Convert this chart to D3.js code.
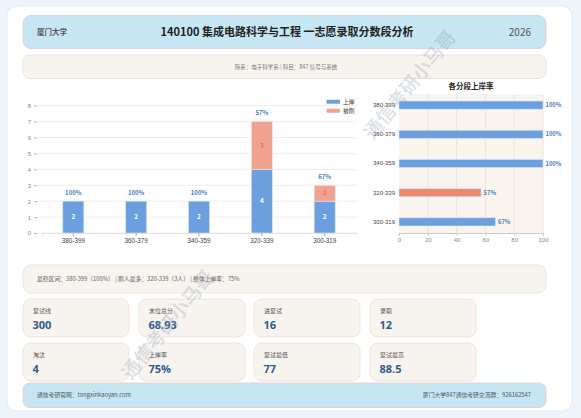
<!DOCTYPE html>
<html><head><meta charset="utf-8">
<script src="https://cdn.jsdelivr.net/npm/d3@7/dist/d3.min.js"></script>
<style>
html,body{margin:0;padding:0;background:#eef5fa;}
svg{display:block;font-family:"Noto Sans CJK SC","Noto Sans",sans-serif;}
</style></head><body>
<svg id="c" width="581" height="418"></svg>
<script>
const school = "厦门大学";
const title = "140100 集成电路科学与工程 一志愿录取分数段分析";
const year = "2026";
const infoText = "院系：电子科学系 | 科目：847 信号与系统";
const summaryText = "最稳区间：380-399（100%） | 刷人最多：320-339（3人） | 整体上岸率：75%";
const categories = ["380-399","360-379","340-359","320-339","300-319"];
const passed = [2,2,2,4,2];
const failed = [0,0,0,3,1];
const rates = [100,100,100,57,67];
const yTicks = [0,1,2,3,4,5,6,7,8];
const xTicks = [0,20,40,60,80,100];
const legendLabels = ["上岸","被刷"];
const cardLabels = ["复试线","末位总分","进复试","录取","淘汰","上岸率","复试最低","复试最高"];
const cardValues = ["300","68.93","16","12","4","75%","77","88.5"];
const footerLeft = "通信考研官网：tongxinkaoyan.com";
const footerRight = "厦门大学847通信考研交流群：926162547";
const watermark = "通信考研小马哥";

const svg = d3.select("#c");
const BLUE = "#6b9fdd", SALMON = "#f2a291", ORANGE = "#e98a72", PCT = "#4a7dbd";

// outer card
svg.append("rect").attr("x",7).attr("y",6).attr("width",565).attr("height",405).attr("rx",10)
  .attr("fill","#fff").attr("stroke","#e2ecf4");

// header
svg.append("rect").attr("x",23).attr("y",15.5).attr("width",523).attr("height",33).attr("rx",8)
  .attr("fill","#c6e6f3").attr("stroke","#e9cfd4");
svg.append("text").attr("x",37).attr("y",35).attr("font-size",7.5).attr("font-weight",700).attr("fill","#555").text(school);
svg.append("text").attr("x",287).attr("y",36).attr("text-anchor","middle").attr("font-size",11).attr("font-weight",700).attr("fill","#222").text(title);
svg.append("text").attr("x",531).attr("y",36).attr("text-anchor","end").attr("font-size",10).attr("fill","#555").text(year);

// info bar
svg.append("rect").attr("x",23).attr("y",55).attr("width",523).attr("height",23.5).attr("rx",7)
  .attr("fill","#f7f3ee").attr("stroke","#ece4da");
svg.append("text").attr("x",286).attr("y",69).attr("text-anchor","middle").attr("font-size",5.5).attr("fill","#777").text(infoText);

// ---------- left stacked bar chart ----------
const x = d3.scaleBand().domain(categories).range([41.9,356.1]);
const y = d3.scaleLinear().domain([0,8]).range([233,105.7]);
const gL = svg.append("g");
gL.append("g").selectAll("line").data(yTicks).join("line")
  .attr("x1",37).attr("x2",358).attr("y1",d=>y(d)).attr("y2",d=>y(d))
  .attr("stroke","#f1ece6").attr("stroke-width",1);
const yAx = gL.append("g").attr("transform","translate(37,0)").call(d3.axisLeft(y).tickValues(yTicks).tickSize(3).tickPadding(3));
yAx.select(".domain").remove();
yAx.selectAll("line").attr("stroke","#bbb");
yAx.selectAll("text").attr("font-size",6).attr("fill","#888").attr("font-family","Liberation Sans, sans-serif");
const xAx = gL.append("g").attr("transform","translate(0,233)").call(d3.axisBottom(x).tickSize(3).tickPadding(2.5));
xAx.select(".domain").attr("stroke","#e6e0da");
xAx.selectAll("line").attr("stroke","#aaa");
xAx.selectAll("text").attr("font-size",6.3).attr("fill","#444").attr("font-family","Liberation Sans, sans-serif");

const bw = x.bandwidth()*0.335;
const bx = c => x(c)+x.bandwidth()/2-bw/2;
gL.selectAll(".bp").data(categories).join("rect")
  .attr("x",d=>bx(d)).attr("width",bw)
  .attr("y",(d,i)=>y(passed[i])).attr("height",(d,i)=>y(0)-y(passed[i]))
  .attr("fill",BLUE).attr("stroke","#d6e6f8").attr("stroke-width",0.6);
gL.selectAll(".bf").data(categories.filter((d,i)=>failed[i]>0)).join("rect")
  .attr("x",d=>bx(d)).attr("width",bw)
  .attr("y",d=>{const i=categories.indexOf(d);return y(passed[i]+failed[i]);})
  .attr("height",d=>{const i=categories.indexOf(d);return y(passed[i])-y(passed[i]+failed[i]);})
  .attr("fill",SALMON).attr("stroke","#fbe3dc").attr("stroke-width",0.6);
gL.selectAll(".lp").data(categories).join("text")
  .attr("x",d=>x(d)+x.bandwidth()/2).attr("y",(d,i)=>(y(passed[i])+y(0))/2+2.2)
  .attr("text-anchor","middle").attr("font-size",6.5).attr("font-weight",700).attr("fill","#fff")
  .text((d,i)=>passed[i]);
gL.selectAll(".lf").data(categories.filter((d,i)=>failed[i]>0)).join("text")
  .attr("x",d=>x(d)+x.bandwidth()/2)
  .attr("y",d=>{const i=categories.indexOf(d);return (y(passed[i])+y(passed[i]+failed[i]))/2+2.2;})
  .attr("text-anchor","middle").attr("font-size",6.5).attr("fill","#d9534f")
  .text(d=>failed[categories.indexOf(d)]);
gL.selectAll(".pc").data(categories).join("text")
  .attr("x",d=>x(d)+x.bandwidth()/2).attr("y",(d,i)=>y(passed[i]+failed[i])-6.5)
  .attr("text-anchor","middle").attr("font-size",6).attr("font-weight",700).attr("fill",PCT)
  .text((d,i)=>rates[i]+"%");
// legend
[BLUE,SALMON].forEach((c,i)=>{
  svg.append("rect").attr("x",326.5).attr("y",99.7+i*9).attr("width",13.5).attr("height",4).attr("rx",1).attr("fill",c);
  svg.append("text").attr("x",343).attr("y",104+i*9).attr("font-size",5.8).attr("fill","#444").text(legendLabels[i]);
});

// ---------- right horizontal bar chart ----------
const rx = d3.scaleLinear().domain([0,100]).range([399,543]);
const ry = d3.scaleBand().domain(categories).range([90.5,236.5]).paddingInner(0.72).paddingOuter(0.36);
svg.append("rect").attr("x",399).attr("y",94).attr("width",144).attr("height",139).attr("fill","#f9f4ee");
svg.append("text").attr("x",471).attr("y",89).attr("text-anchor","middle").attr("font-size",7.5).attr("font-weight",700).attr("fill","#222").text("各分段上岸率");
svg.append("g").selectAll("line").data(xTicks.slice(1)).join("line")
  .attr("x1",d=>rx(d)).attr("x2",d=>rx(d)).attr("y1",94).attr("y2",233)
  .attr("stroke","#e9e4de");
const rxAx = svg.append("g").attr("transform","translate(0,233)").call(d3.axisBottom(rx).tickValues(xTicks).tickSize(3).tickPadding(2));
rxAx.select(".domain").attr("stroke","#ccc");
rxAx.selectAll("line").attr("stroke","#ccc");
rxAx.selectAll("text").attr("font-size",6).attr("fill","#888").attr("font-family","Liberation Sans, sans-serif");
const ryAx = svg.append("g").attr("transform","translate(399,0)").call(d3.axisLeft(ry).tickSize(0).tickPadding(4));
ryAx.select(".domain").remove();
ryAx.selectAll("text").attr("font-size",6).attr("fill","#444").attr("font-family","Liberation Sans, sans-serif");
svg.append("g").selectAll("rect").data(categories).join("rect")
  .attr("x",rx(0)).attr("y",d=>ry(d)).attr("height",ry.bandwidth())
  .attr("width",(d,i)=>rx(rates[i])-rx(0))
  .attr("fill",(d,i)=>rates[i]<60?ORANGE:BLUE).attr("stroke","#dbe8f7").attr("stroke-width",0.6);
svg.append("g").selectAll("text").data(categories).join("text")
  .attr("x",(d,i)=>rx(rates[i])+2.5).attr("y",d=>ry(d)+ry.bandwidth()/2+2)
  .attr("font-size",5.8).attr("font-weight",700).attr("fill",PCT)
  .text((d,i)=>rates[i]+"%");

// summary bar
svg.append("rect").attr("x",23).attr("y",265).attr("width",523).attr("height",28).attr("rx",8)
  .attr("fill","#f7f3ee").attr("stroke","#ece4da");
svg.append("text").attr("x",37).attr("y",281).attr("font-size",5.8).attr("fill","#666").text(summaryText);

// cards
const cardX = [23,139,254,370], cardY = [299,343];
cardLabels.forEach((lab,i)=>{
  const cx = cardX[i%4], cy = cardY[Math.floor(i/4)];
  svg.append("rect").attr("x",cx).attr("y",cy).attr("width",106).attr("height",38).attr("rx",8)
    .attr("fill","#f7f3ee").attr("stroke","#ece4da");
  svg.append("text").attr("x",cx+10).attr("y",cy+14).attr("font-size",6).attr("fill","#555").text(lab);
  svg.append("text").attr("x",cx+9.5).attr("y",cy+30).attr("font-size",11).attr("font-weight",700)
    .attr("fill","#2f5d8c").attr("font-family","Open Sans, sans-serif").text(cardValues[i]);
});

// footer
svg.append("rect").attr("x",23).attr("y",383).attr("width",523).attr("height",24.5).attr("rx",7)
  .attr("fill","#c6e6f3").attr("stroke","#e9cfd4");
svg.append("text").attr("x",37).attr("y",397).attr("font-size",5.8).attr("fill","#555").text(footerLeft);
svg.append("text").attr("x",531).attr("y",397).attr("text-anchor","end").attr("font-size",5.8).attr("fill","#555").text(footerRight);

// watermarks
[[410,85],[168,325]].forEach(p=>{
  svg.append("text").attr("transform",`translate(${p[0]},${p[1]}) rotate(-51)`)
    .attr("text-anchor","middle").attr("dy","0.35em").attr("font-size",19).attr("font-weight",700)
    .attr("fill","#8d9db0").attr("fill-opacity",0.28).text(watermark);
});
</script></body></html>
